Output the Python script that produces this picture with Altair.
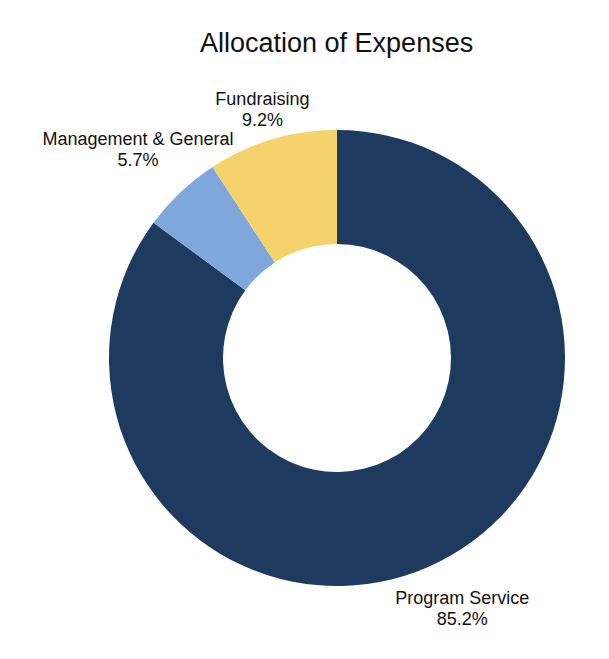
import altair as alt
import pandas as pd

categories = ["Program Service", "Management & General", "Fundraising"]
values = [85.2, 5.7, 9.2]
colors = ["#1f3a5f", "#7fa7dc", "#f5d26c"]

df = pd.DataFrame({
    "category": categories,
    "value": values,
    "order": list(range(len(categories))),
})
df["label"] = [f"{c}\n{v}%" for c, v in zip(categories, values)]
total = float(sum(values))

base = alt.Chart(df).transform_stack(
    stack="value", as_=["v0", "v1"], groupby=[],
    sort=[alt.SortField("order", order="ascending")]
).transform_calculate(mid="(datum.v0 + datum.v1) / 2")

theta_scale = alt.Scale(domain=[0, total])

arcs = base.mark_arc(outerRadius=228, innerRadius=114).encode(
    theta=alt.Theta("v0:Q", scale=theta_scale),
    theta2="v1:Q",
    x=alt.value(329),
    y=alt.value(285),
    color=alt.Color("category:N",
                    scale=alt.Scale(domain=categories, range=colors),
                    legend=None),
)


def label_layer(cat, radius):
    return base.transform_filter(alt.datum.category == cat).mark_text(
        radius=radius, lineBreak="\n", font="Liberation Sans", fontSize=18,
        color="#111111", align="center", baseline="middle", lineHeight=21,
        dy=-7
    ).encode(
        theta=alt.Theta("mid:Q", scale=theta_scale),
        x=alt.value(329),
        y=alt.value(285),
        text="label:N",
    )


labels = [
    label_layer("Program Service", 278),
    label_layer("Management & General", 290),
    label_layer("Fundraising", 262),
]

chart = alt.layer(arcs, *labels).properties(
    width=593, height=578,
    padding={"top": 65, "left": 0, "right": 0, "bottom": 0},
    autosize=alt.AutoSizeParams(type="none"),
    title=alt.TitleParams("Allocation of Expenses", font="Liberation Sans",
                          fontSize=27, fontWeight="normal", color="#111111",
                          anchor="start", dx=192, offset=15),
).configure_view(stroke=None)

chart.save("out.html", embed_options={"renderer": "svg", "actions": False})
